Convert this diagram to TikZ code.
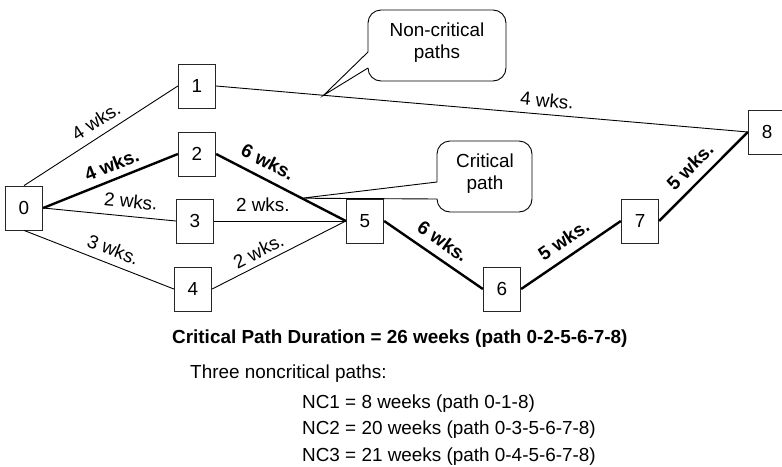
\documentclass[tikz,border=0pt]{standalone}
\usepackage{fontspec}
\setmainfont{Liberation Sans}
\usetikzlibrary{calc}
\newcommand{\fsz}{\fontsize{18.9}{22}\selectfont}
\begin{document}
\begin{tikzpicture}[x=1pt,y=-1pt,
  every node/.style={font=\fsz, text=black},
  evbox/.style={draw=black!85, line width=0.8pt, minimum width=37.5pt, minimum height=44pt, inner sep=0pt},
  thinedge/.style={line width=0.9pt, black},
  critedge/.style={line width=2.4pt, black},
  lbl/.style={sloped, inner sep=0pt, pos=#1},
  blbl/.style={sloped, inner sep=0pt, pos=#1, font=\fsz\bfseries},
  callout/.style={line width=0.9pt, black},
  txt/.style={anchor=base west, inner sep=0pt}
]
\useasboundingbox (0,0) rectangle (782,466);

% event nodes
\node[evbox] (n0) at (24,208) {0};
\node[evbox] (n1) at (197,86) {1};
\node[evbox] (n2) at (197,154) {2};
\node[evbox] (n3) at (195,221) {3};
\node[evbox] (n4) at (193,289) {4};
\node[evbox] (n5) at (365,221) {5};
\node[evbox] (n6) at (502,289) {6};
\node[evbox] (n7) at (640,221) {7};
\node[evbox] (n8) at (767,132) {8};

% connectors
\draw[thinedge] (n0.north) -- node[lbl=0.52, above=7.5pt] {4 wks.} (n1.west);
\draw[critedge] (n0.east) -- node[blbl=0.55, above=6.5pt] {4 wks.} (n2.west);
\draw[thinedge] (n0.east) -- node[lbl=0.65, above=8pt] {2 wks.} (n3.west);
\draw[thinedge] (n0.south) -- node[lbl=0.56, above=7.3pt] {3 wks.} (n4.west);
\draw[thinedge] (n1.east) -- node[lbl=0.62, above=6.8pt] {4 wks.} (n8.west);
\draw[critedge] (n2.east) -- node[blbl=0.34, above=8.5pt] {6 wks.} (n5.west);
\draw[thinedge] (n3.east) -- node[lbl=0.37, above=8.5pt] {2 wks.} (n5.west);
\draw[thinedge] (n4.east) -- node[lbl=0.39, above=5.5pt] {2 wks.} (n5.west);
\draw[critedge] (n5.east) -- node[blbl=0.5, above=8.5pt] {6 wks.} (n6.west);
\draw[critedge] (n6.east) -- node[blbl=0.52, above=8.5pt] {5 wks.} (n7.west);
\draw[critedge] (n7.east) -- node[blbl=0.48, above=8.5pt] {5 wks.} (n8.west);

% callout: non-critical paths
\coordinate (tipnc) at ($(n1.east)!0.202!(n8.west)$);
\draw[callout, rounded corners=13pt] (368,52) -- (368,10) -- (506,10) -- (506,81) -- (368,81) -- (368,68);
\draw[callout] (368,68) -- (tipnc) -- (368,52);
\node[align=center] (nctext) at (437,43) {Non-critical\\paths};

% callout: critical path
\coordinate (tipc) at ($(n2.east)!0.66!(n5.west)$);
\draw[callout, rounded corners=13pt] (437,182) -- (437,141) -- (532,141) -- (532,212) -- (437,212) -- (437,199);
\draw[callout] (437,199) -- (tipc) -- (437,182);
\node[align=center] (ctext) at (485,174) {Critical\\path};

% summary text
\node[txt, font=\fsz\bfseries] (cpd) at (172,343) {Critical Path Duration = 26 weeks (path 0-2-5-6-7-8)};
\node[txt] (three) at (190,378) {Three noncritical paths:};
\node[txt] (nc1) at (302,408) {NC1 = 8 weeks (path 0-1-8)};
\node[txt] (nc2) at (302,434.5) {NC2 = 20 weeks (path 0-3-5-6-7-8)};
\node[txt] (nc3) at (302,461) {NC3 = 21 weeks (path 0-4-5-6-7-8)};
\end{tikzpicture}
\end{document}
